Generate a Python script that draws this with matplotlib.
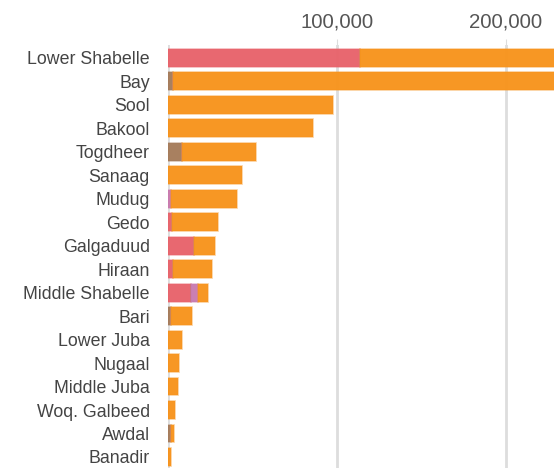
import numpy as np
import matplotlib.pyplot as plt
from matplotlib.colors import to_rgba

plt.rcParams['font.family'] = ['Liberation Sans', 'DejaVu Sans']

regions = ["Lower Shabelle", "Bay", "Sool", "Bakool", "Togdheer", "Sanaag",
           "Mudug", "Gedo", "Galgaduud", "Hiraan", "Middle Shabelle", "Bari",
           "Lower Juba", "Nugaal", "Middle Juba", "Woq. Galbeed", "Awdal", "Banadir"]

red    = [113600, 0, 0, 0, 0, 0, 0, 2500, 15200, 3200, 13400, 0, 0, 0, 0, 0, 0, 0]
brown  = [0, 3000, 0, 0, 8500, 0, 0, 0, 0, 0, 0, 1800, 0, 0, 0, 0, 1500, 0]
pink   = [0, 0, 0, 0, 0, 0, 1800, 0, 0, 0, 4100, 0, 0, 0, 0, 0, 0, 0]
orange = [121400, 229000, 97800, 85600, 43400, 44000, 38800, 27100, 12800, 22600,
          6400, 12600, 8300, 6700, 6100, 4300, 2000, 1600]

series = [(red, "#e8636b"), (brown, "#a57c5b"), (pink, "#c97bb0"), (orange, "#f7941d")]

fig = plt.figure(figsize=(5.54, 4.68), dpi=100)
ax = fig.add_axes([168 / 554, 0, 1 - 168 / 554, 1 - 45 / 468])

y = np.arange(len(regions))
left = np.zeros(len(regions))
for vals, col in series:
    vals = np.array(vals, dtype=float)
    ax.barh(y, vals, left=left, height=0.76, color=to_rgba(col, 0.97),
            edgecolor=to_rgba(col, 0.45), linewidth=1.2, zorder=3)
    left += vals

ax.set_xlim(0, 228400)
ax.set_ylim(17.47, -0.55)
ax.set_yticks(y)
ax.set_yticklabels(regions, fontsize=12.8, color="#444444")
ax.set_xticks([100000, 200000])
ax.set_xticklabels(["100,000", "200,000"], fontsize=14.7, color="#555555")
ax.xaxis.tick_top()
ax.tick_params(axis='x', length=4, color="#dddddd", pad=5.5)
ax.tick_params(axis='y', length=0, pad=13)
for s in ax.spines.values():
    s.set_visible(False)
for gx in [0, 100000, 200000]:
    ax.axvline(gx, color="#dddddd", linewidth=2, zorder=1)

fig.savefig("out.png", dpi=100)
